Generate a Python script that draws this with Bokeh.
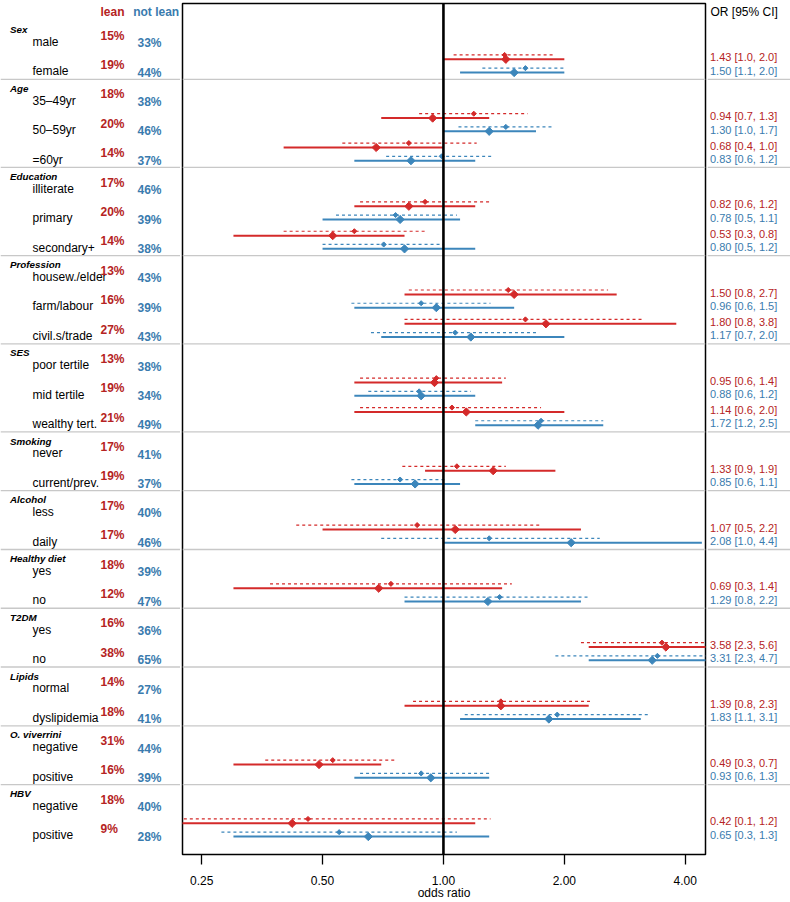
import numpy as np
from bokeh.plotting import figure
from bokeh.models import Range1d, Span, FixedTicker, NumeralTickFormatter, ColumnDataSource
from bokeh.layouts import row
from bokeh.embed import file_html
from bokeh.resources import INLINE
from bokeh.core.properties import value

# ---------------- data ----------------
groups = ["Sex", "Age", "Education", "Profession", "SES", "Smoking", "Alcohol",
          "Healthy diet", "T2DM", "Lipids", "O. viverrini", "HBV"]
group_levels = [
    ["male", "female"],
    ["35\u201349yr", "50\u201359yr", "=60yr"],
    ["illiterate", "primary", "secondary+"],
    ["housew./elder", "farm/labour", "civil.s/trade"],
    ["poor tertile", "mid tertile", "wealthy tert."],
    ["never", "current/prev."],
    ["less", "daily"],
    ["yes", "no"],
    ["yes", "no"],
    ["normal", "dyslipidemia"],
    ["negative", "positive"],
    ["negative", "positive"],
]
lean_pct = [15, 19, 18, 20, 14, 17, 20, 14, 13, 16, 27, 13, 19, 21, 17, 19, 17, 17, 18, 12, 16, 38, 14, 18, 31, 16, 18, 9]
notlean_pct = [33, 44, 38, 46, 37, 46, 39, 38, 43, 39, 43, 38, 34, 49, 41, 37, 40, 46, 39, 47, 36, 65, 27, 41, 44, 39, 40, 28]

# adjusted odds ratios (solid) for non-reference levels, in plotting order
adj_lean_or = [1.43, 0.94, 0.68, 0.82, 0.53, 1.50, 1.80, 0.95, 1.14, 1.33, 1.07, 0.69, 3.58, 1.39, 0.49, 0.42]
adj_lean_lo = [1.0, 0.7, 0.4, 0.6, 0.3, 0.8, 0.8, 0.6, 0.6, 0.9, 0.5, 0.3, 2.3, 0.8, 0.3, 0.1]
adj_lean_hi = [2.0, 1.3, 1.0, 1.2, 0.8, 2.7, 3.8, 1.4, 2.0, 1.9, 2.2, 1.4, 5.6, 2.3, 0.7, 1.2]
adj_not_or = [1.50, 1.30, 0.83, 0.78, 0.80, 0.96, 1.17, 0.88, 1.72, 0.85, 2.08, 1.29, 3.31, 1.83, 0.93, 0.65]
adj_not_lo = [1.1, 1.0, 0.6, 0.5, 0.5, 0.6, 0.7, 0.6, 1.2, 0.6, 1.0, 0.8, 2.3, 1.1, 0.6, 0.3]
adj_not_hi = [2.0, 1.7, 1.2, 1.1, 1.2, 1.5, 2.0, 1.2, 2.5, 1.1, 4.4, 2.2, 4.7, 3.1, 1.3, 1.3]

# crude odds ratios (dashed)
crude_lean_or = [1.42, 1.19, 0.82, 0.90, 0.60, 1.45, 1.60, 0.96, 1.05, 1.08, 0.86, 0.74, 3.50, 1.39, 0.53, 0.46]
crude_lean_lo = [1.06, 0.87, 0.56, 0.62, 0.40, 0.82, 0.80, 0.62, 0.62, 0.79, 0.43, 0.37, 2.20, 0.84, 0.36, 0.16]
crude_lean_hi = [1.88, 1.62, 1.21, 1.31, 0.91, 2.57, 3.14, 1.43, 1.75, 1.43, 1.74, 1.48, 5.57, 2.35, 0.76, 1.31]
crude_not_or = [1.60, 1.43, 0.99, 0.76, 0.71, 0.88, 1.07, 0.87, 1.75, 0.78, 1.30, 1.38, 3.41, 1.92, 0.88, 0.55]
crude_not_lo = [1.25, 1.09, 0.72, 0.54, 0.50, 0.59, 0.66, 0.65, 1.20, 0.59, 0.70, 0.80, 1.90, 1.13, 0.62, 0.28]
crude_not_hi = [1.99, 1.88, 1.33, 1.08, 1.00, 1.31, 1.73, 1.17, 2.50, 1.02, 2.45, 2.30, 6.10, 3.26, 1.30, 1.08]

x_ticks = [0.25, 0.5, 1.0, 2.0, 4.0]

# ---------------- styling ----------------
FONT = value("Liberation Sans")
RED_LINE = "#D42A2A"
RED_TEXT = "#B52323"
BLUE_LINE = "#3C86BB"
BLUE_TEXT = "#3A7BAE"
SEP = "#C8C8C8"

H = 902
BT, BB = 3, 47
W_LEFT, W_MAIN, W_RIGHT = 180, 527, 83

# row positions (level index), headers, separators
level_y, level_txt, header_y, sep_y, or_rows = [], [], [], [], []
i = 0
for g, lv in zip(groups, group_levels):
    header_y.append(i - 0.42)
    for k, name in enumerate(lv):
        level_y.append(i)
        level_txt.append(name)
        if k > 0:
            or_rows.append(i)
        i += 1
    sep_y.append(i - 1 + 0.27)
sep_y = sep_y[:-1]
n_levels = i
y_top, y_bot = -1.31, n_levels - 1 + 0.65
yr = Range1d(start=y_bot, end=y_top)

def base_fig(width, **kw):
    f = figure(width=width, height=H, y_range=yr, output_backend="svg",
               toolbar_location=None, min_border_top=BT, min_border_bottom=BB, **kw)
    f.grid.visible = False
    f.background_fill_color = "white"
    f.border_fill_color = "white"
    return f

def add_seps(f):
    for s in sep_y:
        f.add_layout(Span(location=s, dimension="width", line_color=SEP, line_width=1.3))

# ---------------- left panel ----------------
left = base_fig(W_LEFT, x_range=Range1d(0, W_LEFT), x_axis_location=None, y_axis_location=None,
                min_border_left=0, min_border_right=0)
left.outline_line_color = None
add_seps(left)
left.text(x=[9.5] * len(groups), y=header_y, text=groups, text_font=FONT, text_font_size="9.8px",
          text_font_style="bold italic", text_baseline="middle", text_color="black")
left.text(x=[32] * n_levels, y=level_y, text=level_txt, text_font=FONT, text_font_size="12px",
          text_baseline="middle", text_color="black")
left.text(x=[100] * n_levels, y=[v - 0.215 for v in level_y], text=[f"{v}%" for v in lean_pct],
          text_font=FONT, text_font_size="12px", text_font_style="bold", text_baseline="middle",
          text_color=RED_TEXT)
left.text(x=[137] * n_levels, y=[v + 0.045 for v in level_y], text=[f"{v}%" for v in notlean_pct],
          text_font=FONT, text_font_size="12px", text_font_style="bold", text_baseline="middle",
          text_color=BLUE_TEXT)
left.text(x=[100], y=[-1.02], text=["lean"], text_font=FONT, text_font_size="12px",
          text_font_style="bold", text_baseline="middle", text_color=RED_TEXT)
left.text(x=[132.7], y=[-1.02], text=["not lean"], text_font=FONT, text_font_size="12px",
          text_font_style="bold", text_baseline="middle", text_color=BLUE_TEXT)

# ---------------- main panel ----------------
main = base_fig(W_MAIN, x_axis_type="log", x_range=Range1d(0.2240, 4.493), y_axis_location=None,
                min_border_left=2, min_border_right=2)
main.outline_line_color = "black"
main.outline_line_width = 1.5
add_seps(main)
main.add_layout(Span(location=1.0, dimension="height", line_color="black", line_width=2.6))

yy = np.array(or_rows, dtype=float)
series = [
    (crude_lean_lo, crude_lean_or, crude_lean_hi, yy - 0.56, RED_LINE, "dashed"),
    (adj_lean_lo, adj_lean_or, adj_lean_hi, yy - 0.41, RED_LINE, "solid"),
    (crude_not_lo, crude_not_or, crude_not_hi, yy - 0.11, BLUE_LINE, "dashed"),
    (adj_not_lo, adj_not_or, adj_not_hi, yy + 0.04, BLUE_LINE, "solid"),
]
for lo, est, hi, ypos, col, kind in series:
    src = ColumnDataSource(dict(lo=lo, est=est, hi=hi, y=ypos))
    if kind == "dashed":
        main.segment(x0="lo", y0="y", x1="hi", y1="y", source=src, line_color=col,
                     line_width=1.2, line_dash="3 3")
        main.scatter(x="est", y="y", source=src, marker="square", angle=np.pi / 4, size=3.6,
                     fill_color=col, line_color=col)
    else:
        main.segment(x0="lo", y0="y", x1="hi", y1="y", source=src, line_color=col, line_width=2)
        main.scatter(x="est", y="y", source=src, marker="square", angle=np.pi / 4, size=5.8,
                     fill_color=col, line_color=col)

xa = main.xaxis[0]
xa.ticker = FixedTicker(ticks=x_ticks, minor_ticks=[])
xa.formatter = NumeralTickFormatter(format="0.00")
xa.axis_line_color = None
xa.major_tick_out = 10
xa.major_tick_in = 0
xa.major_tick_line_color = "black"
xa.major_tick_line_width = 1.3
xa.major_label_standoff = 11
xa.major_label_text_font = "Liberation Sans"
xa.major_label_text_font_size = "12px"
xa.major_label_text_color = "black"
xa.axis_label = "odds ratio"
xa.axis_label_standoff = -2
xa.axis_label_text_font = "Liberation Sans"
xa.axis_label_text_font_size = "12px"
xa.axis_label_text_font_style = "normal"
xa.axis_label_text_color = "black"

# ---------------- right panel ----------------
right = base_fig(W_RIGHT, x_range=Range1d(0, W_RIGHT), x_axis_location=None, y_axis_location=None,
                 min_border_left=0, min_border_right=0)
right.outline_line_color = None
add_seps(right)
right.text(x=[3], y=[-1.02], text=["OR [95% CI]"], text_font=FONT, text_font_size="12px",
           text_baseline="middle", text_color="black")
fmt = lambda o, l, h: f"{o:.2f} [{l:.1f}, {h:.1f}]"
right.text(x=[2.5] * len(or_rows), y=list(yy - 0.475),
           text=[fmt(o, l, h) for o, l, h in zip(adj_lean_or, adj_lean_lo, adj_lean_hi)],
           text_font=FONT, text_font_size="11px", text_baseline="middle", text_color=RED_TEXT)
right.text(x=[2.5] * len(or_rows), y=list(yy - 0.02),
           text=[fmt(o, l, h) for o, l, h in zip(adj_not_or, adj_not_lo, adj_not_hi)],
           text_font=FONT, text_font_size="11px", text_baseline="middle", text_color=BLUE_TEXT)

p = row(left, main, right, spacing=0)
open("out.html", "w").write(file_html(p, INLINE))
